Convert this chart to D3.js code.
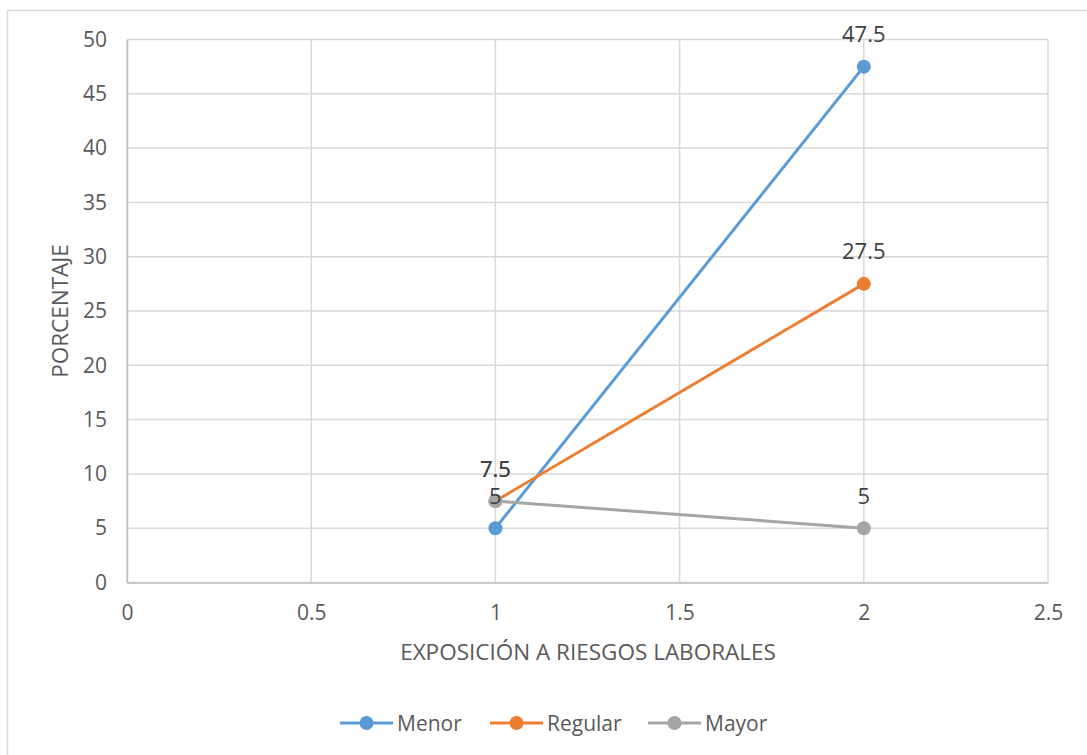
<!DOCTYPE html>
<html><head><meta charset="utf-8">
<script src="https://cdn.jsdelivr.net/npm/d3@7"></script>
<style>body{margin:0;background:#fff;}svg{display:block;}svg text{font-family:"Open Sans","Liberation Sans",sans-serif;}</style>
</head><body>
<svg id="c" width="1087" height="755"></svg>
<script>
const seriesNames = ["Menor", "Regular", "Mayor"];
const seriesColors = ["#5B9BD5", "#ED7D31", "#A5A5A5"];
const xValues = [1, 2];
const menor = [5, 47.5];
const regular = [7.5, 27.5];
const mayor = [7.5, 5];
const xTicks = [0, 0.5, 1, 1.5, 2, 2.5];
const yTicks = [0, 5, 10, 15, 20, 25, 30, 35, 40, 45, 50];
const xTitle = "EXPOSICIÓN A RIESGOS LABORALES";
const yTitle = "PORCENTAJE";

const series = [menor, regular, mayor].map((vals, i) => ({
  name: seriesNames[i], color: seriesColors[i],
  pts: vals.map((v, j) => ({x: xValues[j], y: v}))
}));

const svg = d3.select("#c");
svg.append("rect").attr("x", 7.5).attr("y", 10.5).attr("width", 1100).attr("height", 800)
  .attr("fill", "#fff").attr("stroke", "#d9d9d9").attr("stroke-width", 1.5);

const L = 127, R = 1048, T = 39.5, B = 582.5;
const x = d3.scaleLinear().domain([0, 2.5]).range([L, R]);
const y = d3.scaleLinear().domain([0, 50]).range([B, T]);

// gridlines
const g = svg.append("g");
g.selectAll(".hg").data(yTicks).join("line")
  .attr("x1", L).attr("x2", R).attr("y1", d => y(d)).attr("y2", d => y(d))
  .attr("stroke", "#d9d9d9").attr("stroke-width", 1.5);
g.selectAll(".vg").data(xTicks).join("line")
  .attr("y1", T).attr("y2", B).attr("x1", d => x(d)).attr("x2", d => x(d))
  .attr("stroke", "#d9d9d9").attr("stroke-width", 1.5);

// axes
const xAxis = svg.append("g").attr("transform", `translate(0,${B})`)
  .call(d3.axisBottom(x).tickValues(xTicks).tickSize(0).tickPadding(23).tickFormat(d3.format("")));
xAxis.select(".domain").attr("stroke", "#bfbfbf").attr("stroke-width", 1.5);
xAxis.selectAll("text").attr("fill", "#595959").attr("font-size", 21);

const yAxis = svg.append("g").attr("transform", `translate(${L},0)`)
  .call(d3.axisLeft(y).tickValues(yTicks).tickSize(0).tickPadding(20));
yAxis.select(".domain").attr("stroke", "#bfbfbf").attr("stroke-width", 1.5);
yAxis.selectAll("text").attr("fill", "#595959").attr("font-size", 21);

svg.append("text").attr("x", 588).attr("y", 660).attr("text-anchor", "middle")
  .attr("fill", "#595959").attr("font-size", 22.5).text(xTitle);
svg.append("text").attr("transform", `translate(68,${(T + B) / 2}) rotate(-90)`)
  .attr("text-anchor", "middle").attr("fill", "#595959").attr("font-size", 22.5).text(yTitle);

// lines
const line = d3.line().x(d => x(d.x)).y(d => y(d.y));
series.forEach(s => {
  svg.append("path").datum(s.pts).attr("d", line).attr("fill", "none")
    .attr("stroke", s.color).attr("stroke-width", 3);
});
series.forEach(s => {
  svg.selectAll(null).data(s.pts).join("circle")
    .attr("cx", d => x(d.x)).attr("cy", d => y(d.y)).attr("r", 7).attr("fill", s.color);
});
series.forEach(s => {
  svg.selectAll(null).data(s.pts).join("text")
    .attr("x", d => x(d.x)).attr("y", d => y(d.y) - 24.5).attr("text-anchor", "middle")
    .attr("fill", "#404040").attr("font-size", 22).text(d => d.y);
});

// legend
const legX = [340, 490, 648];
series.forEach((s, i) => {
  const lg = svg.append("g").attr("transform", `translate(${legX[i]},723)`);
  lg.append("line").attr("x1", 0).attr("x2", 53).attr("stroke", s.color).attr("stroke-width", 3);
  lg.append("circle").attr("cx", 26.5).attr("r", 7).attr("fill", s.color);
  lg.append("text").attr("x", 57).attr("y", 8).attr("fill", "#595959").attr("font-size", 21).text(s.name);
});
</script>
</body></html>
